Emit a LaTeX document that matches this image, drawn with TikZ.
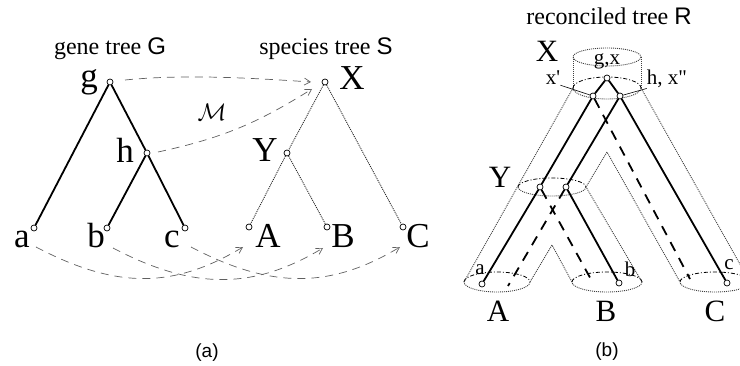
\RequirePackage{fix-cm}
\documentclass[tikz,border=0pt]{standalone}
\usepackage{fontspec}
\setmainfont{Liberation Serif}
\newfontfamily\helv{Liberation Sans}
\usetikzlibrary{arrows.meta}

\begin{document}
\begin{tikzpicture}[x=1pt,y=-1pt,
    vtx/.style={circle,draw,fill=white,inner sep=0pt,minimum size=6pt,line width=0.7pt},
    gene/.style={line width=1.8pt},
    spec/.style={black!85,line width=0.9pt,dash pattern=on 1pt off 1pt},
    mapto/.style={gray!75!black,line width=0.7pt,dash pattern=on 8pt off 6pt,-{Straight Barb[length=6pt,width=7pt]}},
    tube/.style={black!75,line width=0.9pt,dash pattern=on 1pt off 1pt},
    back/.style={line width=0.8pt,dash pattern=on 4pt off 2pt on 1pt off 2pt},
    loss/.style={line width=1.8pt,dash pattern=on 10pt off 8pt},
    biglbl/.style={font=\fontsize{35}{37}\selectfont,anchor=base,inner sep=0pt},
    midlbl/.style={font=\fontsize{31}{33}\selectfont,anchor=base,inner sep=0pt},
    smalllbl/.style={font=\fontsize{21}{23}\selectfont,anchor=base,inner sep=0pt},
    titlelbl/.style={font=\fontsize{24}{26}\selectfont,anchor=base,inner sep=0pt},
    capt/.style={font=\helv\fontsize{19}{21}\selectfont,inner sep=0pt}]
  \useasboundingbox (0,0) rectangle (740,366);
  \clip (0,0) rectangle (740,366);

  % (a) gene tree G
  \node[titlelbl] (tG) at (110,55) {gene tree {\helv G}};
  \node[vtx] (g) at (110,82) {};
  \node[vtx] (h) at (147,153) {};
  \node[vtx] (a) at (34,228) {};
  \node[vtx] (b) at (107,228) {};
  \node[vtx] (c) at (185,228) {};
  \draw[gene] (g) -- (a);
  \draw[gene] (g) -- (h);
  \draw[gene] (h) -- (b);
  \draw[gene] (h) -- (c);
  \node[biglbl] (lg) at (89,88) {g};
  \node[biglbl] (lh) at (125,163) {h};
  \node[biglbl] (la) at (22,248) {a};
  \node[biglbl] (lb) at (96,248) {b};
  \node[biglbl] (lc) at (172,248) {c};

  % species tree S
  \node[titlelbl] (tS) at (326,55) {species tree {\helv S}};
  \node[vtx] (X) at (325,82) {};
  \node[vtx] (Y) at (287,153) {};
  \node[vtx] (A) at (249,227) {};
  \node[vtx] (B) at (327,227) {};
  \node[vtx] (C) at (403,227) {};
  \draw[spec] (X) -- (Y);
  \draw[spec] (Y) -- (A);
  \draw[spec] (Y) -- (B);
  \draw[spec] (X) -- (C);
  \node[biglbl] (lX) at (352,90) {X};
  \node[biglbl] (lY) at (265,162) {Y};
  \node[biglbl] (lA) at (268,248) {A};
  \node[biglbl] (lB) at (343,248) {B};
  \node[biglbl] (lC) at (418,248) {C};

  % mapping M
  \draw[mapto] ([shift={(15,-2)}]g.center) .. controls +(60,-6) and +(-60,-4) .. ([shift={(-14,0)}]X.center);
  \draw[mapto] ([shift={(11,-1)}]h.center) .. controls +(70,-15) and +(-50,31) .. ([shift={(-13,7)}]X.center);
  \draw[mapto] ([shift={(2,19)}]a.center) .. controls +(80,42) and +(-70,42) .. ([shift={(-6,20)}]A.center);
  \draw[mapto] ([shift={(6,20)}]b.center) .. controls +(80,42) and +(-70,42) .. ([shift={(-4,21)}]B.center);
  \draw[mapto] ([shift={(6,19)}]c.center) .. controls +(80,42) and +(-70,42) .. ([shift={(-3,20)}]C.center);
  \node[font=\fontsize{24}{26}\selectfont] (M) at (212,112) {$\mathcal{M}$};
  \node[capt] (capa) at (207,353) {(a)};

  % (b) reconciled tree R
  \node[titlelbl] (tR) at (609,25) {reconciled tree {\helv R}};
  \draw[tube] (607,57) ellipse [x radius=34, y radius=9];
  \draw[tube] (573,57) -- (573,88) (641,57) -- (641,88);
  \foreach \cx/\cy/\rx/\ry in {607/88/34/11, 552/187/34/9, 497/282/33/10, 607/282/35/10, 715/282/35/10} {
    \draw[tube] (\cx+\rx,\cy) arc[start angle=0, end angle=180, x radius=\rx, y radius=\ry];
    \draw[back] (\cx-\rx,\cy) arc[start angle=180, end angle=360, x radius=\rx, y radius=\ry];
  }
  \draw[tube] (573,88) -- (464,282);
  \draw[tube] (530,282) -- (552,245) -- (572,282);
  \draw[tube] (642,282) -- (586,187) -- (607,152) -- (680,282);
  \draw[tube] (641,88) -- (750,282);

  \node[vtx] (r) at (607,78) {};
  \node[vtx] (xp) at (593,96) {};
  \node[vtx] (xpp) at (620,96) {};
  \node[vtx] (yl) at (540,187) {};
  \node[vtx] (yr) at (566,187) {};
  \node[vtx] (ra) at (482,284) {};
  \node[vtx] (rb) at (619,283) {};
  \node[vtx] (rc) at (727,283) {};
  \coordinate (lossA) at (508,286);
  \coordinate (lossB) at (593,283);
  \coordinate (lossC) at (690,279);

  \draw[gene] (r) -- (xp);
  \draw[gene] (r) -- (xpp);
  \draw[gene] (xp) -- (yl);
  \draw[gene] (yl) -- (ra);
  \draw[gene] (xpp) -- (yr);
  \draw[gene] (yr) -- (rb);
  \draw[gene] (xpp) -- (rc);
  \draw[loss] (xp) -- (lossC);
  \draw[loss] (yl) -- (lossB);
  \draw[loss] (yr) -- (lossA);

  \node[midlbl] (rX) at (547,62) {X};
  \node[midlbl] (rY) at (500,188) {Y};
  \node[midlbl] (rA) at (498,322) {A};
  \node[midlbl] (rB) at (606,322) {B};
  \node[midlbl] (rC) at (715,322) {C};
  \node[smalllbl] (lgx) at (607,65) {g,x};
  \node[smalllbl] (lxp) at (553,85) {x\textquotesingle};
  \node[smalllbl] (lxpp) at (667,85) {h, x\textquotedbl};
  \node[smalllbl] (lra) at (480,275) {a};
  \node[smalllbl] (lrb) at (630,277) {b};
  \node[smalllbl] (lrc) at (729,270) {c};
  \draw[line width=0.6pt] (lxp.south east) -- (xp);
  \draw[line width=0.6pt] (lxpp.south west) -- (xpp);
  \node[capt] (capb) at (607,352) {(b)};
\end{tikzpicture}
\end{document}
